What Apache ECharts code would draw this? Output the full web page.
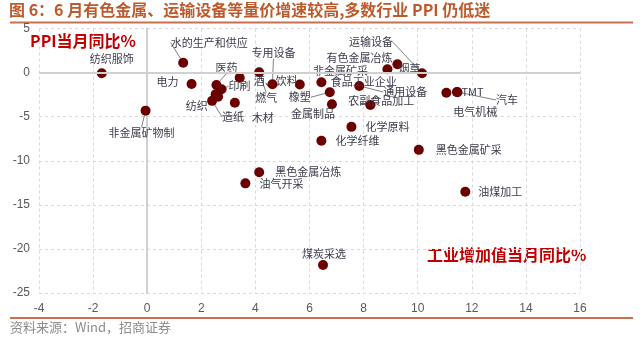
<!DOCTYPE html>
<html><head><meta charset="utf-8">
<script src="https://cdn.jsdelivr.net/npm/echarts@6/dist/echarts.min.js"></script>
<style>html,body{margin:0;padding:0;background:#fff}#c{width:644px;height:340px}</style>
</head><body><div id="c"></div>
<script>
// ---- data ----
const industries = ['纺织服饰','非金属矿物制','水的生产和供应','电力','医药','印刷','纺织','','造纸','木材','食品工业企业','燃气','专用设备','酒、饮料','非金属矿采','橡塑','金属制品','通用设备','农副食品加工','有色金属冶炼','烟草','运输设备','电气机械','汽车','TMT','化学原料','化学纤维','黑色金属矿采','黑色金属冶炼','油气开采','油煤加工','煤炭采选'];
const ivaYoY = [-1.68,-0.06,1.33,1.64,2.56,2.75,2.53,2.62,2.40,3.24,3.42,4.14,4.63,5.64,6.44,6.75,6.83,7.84,8.25,8.88,9.25,10.16,11.06,11.45,11.47,7.55,6.44,10.04,4.14,3.63,11.76,6.50];
const ppiYoY = [-0.07,-4.31,1.13,-1.28,-1.39,-1.88,-2.45,-2.72,-3.20,-3.42,-0.57,0.05,-1.32,-1.34,-1.09,-2.22,-3.58,-1.51,-3.66,0.39,0.95,-0.07,-2.27,-2.19,-2.22,-6.15,-7.73,-8.76,-11.29,-12.56,-13.51,-21.83];
const xMin = -4, xMax = 16, xStep = 2;
const yMin = -25, yMax = 5, yStep = 5;

// ---- label placement (style) ----
const labelOffsets = [[10,-14],[-4,22],[26,-20],[-24,-2],[10,-17],[18,-3],[-19,12],[0,0],[21,16],[28,15],[124,4],[7,26],[1,-31],[-24,-4],[19,-11],[-30,5],[-19,10],[46,6],[11,-4],[-28,-11],[12,5],[-51,-31],[29,19],[50,8],[15,0],[36,0],[36,0],[50,0],[49,0],[36,0],[35,0],[1,-11]];
const leaderIdx = [1,2,4,5,8,11,12,15,17,21,23];

const data = industries.map((n,i)=>({
  name:n, value:[ivaYoY[i], ppiYoY[i]],
  label:{show: n!==''},
  labelLine:{show: leaderIdx.indexOf(i)>=0}
}));

const chart = echarts.init(document.getElementById('c'), null, {renderer:'canvas'});
const axisFont = {color:'#595959', fontSize:12, fontFamily:'Liberation Sans, Arial, sans-serif'};
const dashed = {show:true, lineStyle:{color:'#d9d9d9', type:[3,3], width:1}};
chart.setOption({
  animation:false,
  grid:{left:39, right:64, top:28.6, bottom:47},
  xAxis:{type:'value', min:xMin, max:xMax, interval:xStep, position:'bottom',
    axisLine:{show:false, onZero:false}, axisTick:{show:false},
    axisLabel:Object.assign({margin:10}, axisFont), splitLine:dashed},
  yAxis:{type:'value', min:yMin, max:yMax, interval:yStep,
    axisLine:{show:true, onZero:true, lineStyle:{color:'#d0d0d0', width:2}},
    axisTick:{show:false}, axisLabel:Object.assign({margin:9}, axisFont), splitLine:dashed},
  series:[{
    type:'scatter', symbolSize:10, itemStyle:{color:'#6a0000', opacity:1},
    data:data,
    label:{show:true, position:'inside', formatter:'{b}', color:'#3b3b4b', fontSize:11,
      fontFamily:'Noto Sans CJK SC'},
    labelLine:{show:false, lineStyle:{color:'#808080', width:1}},
    labelLayout:function(p){ const o = labelOffsets[p.dataIndex]; return {dx:o[0], dy:o[1]}; },
    markLine:{silent:true, symbol:['none','none'], label:{show:false},
      lineStyle:{color:'#d0d0d0', type:'solid', width:2}, data:[{yAxis:0}]}
  }],
  graphic:[
    {type:'text', left:9, top:2, style:{text:'图 6：6 月有色金属、运输设备等量价增速较高,多数行业 PPI 仍低迷', fill:'#bd5a2c', font:'bold 16px "Noto Sans CJK SC"'}},
    {type:'line', shape:{x1:10, y1:22.5, x2:633, y2:22.5}, style:{stroke:'#c87050', lineWidth:2}},
    {type:'line', shape:{x1:10, y1:318, x2:633, y2:318}, style:{stroke:'#c87050', lineWidth:2}},
    {type:'text', left:10, top:321, style:{text:'资料来源：Wind，招商证券', fill:'#8c8c8c', font:'13px "Noto Sans CJK SC"'}},
    {type:'text', left:30, top:33, style:{text:'PPI当月同比%', fill:'#c00000', font:'bold 16px "Noto Sans CJK SC"'}},
    {type:'text', left:427, top:247, style:{text:'工业增加值当月同比%', fill:'#c00000', font:'bold 16px "Noto Sans CJK SC"'}}
  ]
});
</script></body></html>
